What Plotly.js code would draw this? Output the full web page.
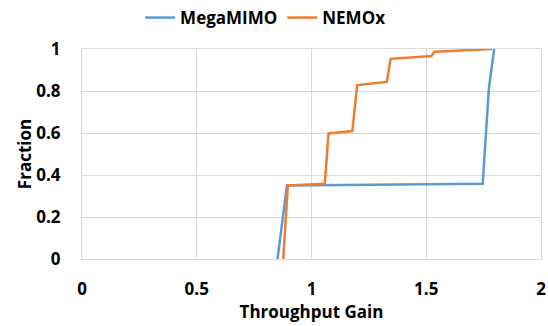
<!DOCTYPE html>
<html><head><meta charset="utf-8">
<script src="https://cdn.plot.ly/plotly-3.0.1.min.js"></script>
<style>html,body{margin:0;padding:0;background:#fff}#c{width:548px;height:326px}</style>
</head><body><div id="c"></div>
<script>
const megaX = [0.852, 0.893, 1.746, 1.773, 1.796];
const megaY = [0.0, 0.35, 0.358, 0.814, 1.0];
const nemoX = [0.877, 0.897, 1.058, 1.074, 1.178, 1.199, 1.328, 1.345, 1.523, 1.535, 1.787];
const nemoY = [0.0, 0.35, 0.358, 0.598, 0.609, 0.828, 0.843, 0.953, 0.967, 0.987, 1.0];
const xTicks = [0, 0.5, 1, 1.5, 2];
const yTicks = [0, 0.2, 0.4, 0.6, 0.8, 1];

const F = '"Open Sans", sans-serif';
const traces = [
  {x: megaX, y: megaY, name: 'MegaMIMO', mode: 'lines', line: {color: '#5B9BD5', width: 2.5}},
  {x: nemoX, y: nemoY, name: 'NEMOx', mode: 'lines', line: {color: '#ED7D31', width: 2.5}}
];
const layout = {
  width: 548, height: 326,
  margin: {l: 82, r: 7, t: 49, b: 67, autoexpand: false},
  paper_bgcolor: '#fff', plot_bgcolor: '#fff',
  font: {family: F, size: 17, color: '#000', weight: 'bold'},
  showlegend: true,
  legend: {orientation: 'h', x: 0.40, xanchor: 'center', y: 1.2333, yanchor: 'top',
           font: {family: F, size: 17, weight: 'bold'}, itemwidth: 30, tracegroupgap: 0},
  xaxis: {range: [0, 2], tickvals: xTicks, ticktext: xTicks.map(String),
          showgrid: true, gridcolor: '#d9d9d9', zeroline: false,
          showline: true, linecolor: '#d9d9d9', mirror: true, ticks: '',
          ticklabelstandoff: 15, automargin: false,
          tickfont: {family: F, size: 17, weight: 'bold'},
          title: {text: 'Throughput Gain', font: {family: F, size: 17, weight: 'bold'}, standoff: 0}},
  yaxis: {range: [0, 1], tickvals: yTicks, ticktext: yTicks.map(String),
          showgrid: true, gridcolor: '#d9d9d9', zeroline: false,
          showline: true, linecolor: '#d9d9d9', mirror: true, ticks: '',
          ticklabelstandoff: 17, automargin: false,
          tickfont: {family: F, size: 17, weight: 'bold'},
          title: {text: 'Fraction', font: {family: F, size: 17, weight: 'bold'}, standoff: 0}}
};
Plotly.newPlot('c', traces, layout, {displayModeBar: false, staticPlot: true});
</script></body></html>
